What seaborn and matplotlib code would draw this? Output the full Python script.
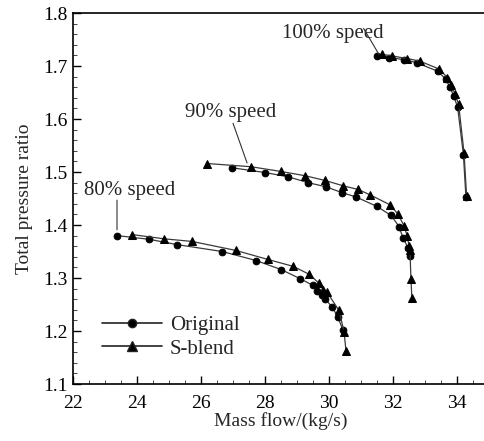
import matplotlib
matplotlib.use("Agg")
import matplotlib.pyplot as plt
from matplotlib.lines import Line2D
from matplotlib.ticker import MultipleLocator
import seaborn as sns
import pandas as pd

sns.set_style("ticks")
plt.rcParams['font.family'] = ['Liberation Serif', 'DejaVu Serif']

# ---- data ----
orig100_x = [31.50, 31.88, 32.35, 32.75, 33.40, 33.65, 33.78, 33.90, 34.02, 34.20, 34.28]
orig100_y = [1.718, 1.716, 1.712, 1.706, 1.690, 1.675, 1.660, 1.643, 1.622, 1.533, 1.452]
sb100_x = [31.66, 31.97, 32.45, 32.85, 33.45, 33.70, 33.82, 33.93, 34.05, 34.22, 34.30]
sb100_y = [1.722, 1.719, 1.714, 1.709, 1.694, 1.678, 1.664, 1.648, 1.628, 1.536, 1.455]

orig90_x = [26.97, 28.00, 28.72, 29.34, 29.91, 30.41, 30.84, 31.50, 31.94, 32.19, 32.31, 32.47, 32.53]
orig90_y = [1.508, 1.499, 1.491, 1.480, 1.472, 1.461, 1.453, 1.435, 1.418, 1.397, 1.376, 1.357, 1.342]
sb90_x = [26.19, 27.56, 28.50, 29.25, 29.88, 30.44, 30.91, 31.28, 31.91, 32.16, 32.34, 32.44, 32.50, 32.53, 32.56, 32.59]
sb90_y = [1.516, 1.510, 1.501, 1.493, 1.484, 1.474, 1.467, 1.457, 1.438, 1.420, 1.399, 1.380, 1.361, 1.352, 1.299, 1.262]

orig80_x = [23.38, 24.38, 25.25, 26.66, 27.72, 28.50, 29.09, 29.50, 29.63, 29.78, 29.88, 30.09, 30.28, 30.44]
orig80_y = [1.380, 1.373, 1.363, 1.350, 1.333, 1.316, 1.299, 1.286, 1.276, 1.267, 1.260, 1.246, 1.226, 1.201]
sb80_x = [23.84, 24.84, 25.72, 27.09, 28.09, 28.88, 29.38, 29.69, 29.81, 29.94, 30.31, 30.47, 30.53]
sb80_y = [1.382, 1.374, 1.369, 1.352, 1.335, 1.322, 1.307, 1.290, 1.278, 1.273, 1.239, 1.199, 1.163]

series_names = ["Original", "S-blend"]
speed_labels = ["100% speed", "90% speed", "80% speed"]
x_ticks = [22, 24, 26, 28, 30, 32, 34]
y_ticks = [1.1, 1.2, 1.3, 1.4, 1.5, 1.6, 1.7, 1.8]

rows = []
for spd, sets in [("100%", [(orig100_x, orig100_y, "Original"), (sb100_x, sb100_y, "S-blend")]),
                  ("90%", [(orig90_x, orig90_y, "Original"), (sb90_x, sb90_y, "S-blend")]),
                  ("80%", [(orig80_x, orig80_y, "Original"), (sb80_x, sb80_y, "S-blend")])]:
    for xs, ys, name in sets:
        for i, (xv, yv) in enumerate(zip(xs, ys)):
            rows.append({"speed": spd, "series": name, "order": i, "x": xv, "y": yv,
                         "grp": spd + name})
df = pd.DataFrame(rows)

fig = plt.figure(figsize=(4.85, 4.41), dpi=100)
ax = fig.add_axes([73/485, 1-384/441, 416/485, (384-13)/441])

markers = {"Original": "o", "S-blend": "^"}
msize = {"Original": 4.8, "S-blend": 5.2}
for grp, sub in df.groupby("grp", sort=False):
    name = sub["series"].iloc[0]
    sns.lineplot(data=sub, x="x", y="y", sort=False, estimator=None, ax=ax,
                 color="#3a3a3a", lw=0.9, marker=markers[name], markersize=msize[name],
                 markerfacecolor="black", markeredgecolor="black", legend=False)

FS = 14
ax.set_xlim(22, 35)
ax.set_ylim(1.1, 1.8)
ax.set_xticks(x_ticks)
ax.set_yticks(y_ticks)
ax.xaxis.set_minor_locator(MultipleLocator(0.5))
ax.yaxis.set_minor_locator(MultipleLocator(0.02))
ax.tick_params(which="major", direction="in", length=6, width=1, labelsize=FS, colors="black")
ax.tick_params(which="minor", direction="in", length=3, width=0.6)
ax.tick_params(axis="x", which="major", pad=8)
ax.tick_params(axis="y", which="major", pad=4)
for s in ax.spines.values():
    s.set_linewidth(1.2)
    s.set_color("black")
ax.spines["right"].set_visible(False)
ax.set_xlabel("Mass flow/(kg/s)", fontsize=FS, labelpad=0)
ax.set_ylabel("Total pressure ratio", fontsize=FS, labelpad=7)

# speed labels with leader lines
FA = 15
lead = dict(arrowstyle="-", color="#333333", lw=0.8, shrinkA=0, shrinkB=0)
ax.text(30.12, 1.762, speed_labels[0], fontsize=FA, ha="center", va="center")
ax.annotate("", xy=(31.56, 1.722), xytext=(31.08, 1.771), arrowprops=lead)
ax.text(26.94, 1.613, speed_labels[1], fontsize=FA, ha="center", va="center")
ax.annotate("", xy=(27.44, 1.517), xytext=(27.0, 1.592), arrowprops=lead)
ax.text(23.78, 1.466, speed_labels[2], fontsize=FA, ha="center", va="center")
ax.annotate("", xy=(23.375, 1.391), xytext=(23.375, 1.447), arrowprops=lead)

handles = [Line2D([], [], color="#222222", lw=1.2, marker="o", markersize=6, markerfacecolor="black"),
           Line2D([], [], color="#222222", lw=1.2, marker="^", markersize=6.5, markerfacecolor="black")]
ax.legend(handles, series_names, loc="lower left", bbox_to_anchor=(29/416, 0.068), frameon=False,
          handlelength=2.9, fontsize=FA, labelspacing=0.2, handletextpad=0.35, borderaxespad=0,
          borderpad=0)

fig.savefig("out.png", dpi=100)
